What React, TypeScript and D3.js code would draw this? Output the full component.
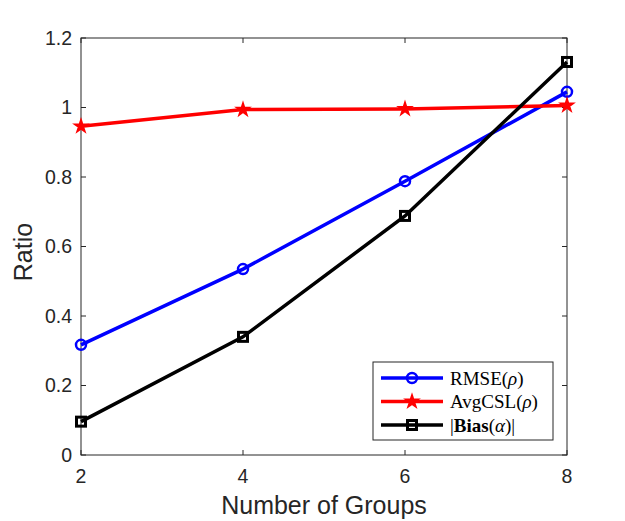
import React from "react";
import * as d3 from "d3";

const groups = [2, 4, 6, 8];
const rmse = [0.317, 0.535, 0.788, 1.045];
const avgcsl = [0.946, 0.994, 0.996, 1.006];
const bias = [0.096, 0.34, 0.688, 1.131];
const yTicks = [0, 0.2, 0.4, 0.6, 0.8, 1, 1.2];
const xTicks = [2, 4, 6, 8];

const W = 625, H = 521;
const L = 81, R = 567, T = 38, B = 455;

export default function App() {
  const x = d3.scaleLinear().domain([2, 8]).range([L, R]);
  const y = d3.scaleLinear().domain([0, 1.2]).range([B, T]);
  const line = d3.line<number>().x((_, i) => x(groups[i])).y((d) => y(d));
  const star = d3.symbol(d3.symbolStar, 42)() as string;
  const tickFont = { fontFamily: "Liberation Sans, Arial, sans-serif", fontSize: 19.5, fill: "#262626" };

  const series = [
    { data: rmse, color: "#0000ff", kind: "circle" },
    { data: avgcsl, color: "#ff0000", kind: "star" },
    { data: bias, color: "#000000", kind: "square" },
  ];

  const marker = (kind: string, color: string, cx: number, cy: number, key: any) => {
    if (kind === "circle")
      return <circle key={key} cx={cx} cy={cy} r={5} fill="none" stroke={color} strokeWidth={2.5} />;
    if (kind === "star")
      return <path key={key} d={star} transform={`translate(${cx},${cy})`} fill={color} stroke={color} strokeWidth={2} />;
    return <rect key={key} x={cx - 4.5} y={cy - 4.5} width={9} height={9} fill="none" stroke={color} strokeWidth={3} />;
  };

  const legendItems = [
    { kind: "circle", color: "#0000ff", label: <tspan>RMSE(<tspan fontStyle="italic">ρ</tspan>)</tspan> },
    { kind: "star", color: "#ff0000", label: <tspan>AvgCSL(<tspan fontStyle="italic">ρ</tspan>)</tspan> },
    { kind: "square", color: "#000000", label: <tspan>|<tspan fontWeight="bold">Bias</tspan>(<tspan fontStyle="italic">α</tspan>)|</tspan> },
  ];

  return (
    <svg width={W} height={H} style={{ position: "absolute", left: 0, top: 0 }}>
      <rect x={0} y={0} width={W} height={H} fill="#fff" />
      <rect x={L} y={T} width={R - L} height={B - T} fill="#fff" stroke="#262626" strokeWidth={1} />
      {yTicks.map((t) => (
        <g key={"y" + t}>
          <line x1={L} x2={L + 5} y1={y(t)} y2={y(t)} stroke="#262626" />
          <line x1={R} x2={R - 5} y1={y(t)} y2={y(t)} stroke="#262626" />
          <text x={L - 9} y={y(t)} dy="0.35em" textAnchor="end" {...tickFont}>{String(t)}</text>
        </g>
      ))}
      {xTicks.map((t) => (
        <g key={"x" + t}>
          <line x1={x(t)} x2={x(t)} y1={B} y2={B - 5} stroke="#262626" />
          <line x1={x(t)} x2={x(t)} y1={T} y2={T + 5} stroke="#262626" />
          <text x={x(t)} y={B + 28} textAnchor="middle" {...tickFont}>{String(t)}</text>
        </g>
      ))}
      <text x={324} y={514} textAnchor="middle" fontFamily="Liberation Sans, Arial, sans-serif" fontSize={25} fill="#262626">Number of Groups</text>
      <text transform={`translate(32,252) rotate(-90)`} textAnchor="middle" fontFamily="Liberation Sans, Arial, sans-serif" fontSize={25} fill="#262626">Ratio</text>
      {series.map((s, si) => (
        <g key={si}>
          <path d={line(s.data) as string} fill="none" stroke={s.color} strokeWidth={3.5} />
          {s.data.map((v, i) => marker(s.kind, s.color, x(groups[i]), y(v), i))}
        </g>
      ))}
      <rect x={373} y={362} width={180} height={78} fill="#fff" stroke="#262626" strokeWidth={1} />
      {legendItems.map((it, i) => {
        const cy = 378 + i * 23.5;
        return (
          <g key={"l" + i}>
            <line x1={381} x2={443} y1={cy} y2={cy} stroke={it.color} strokeWidth={3.5} />
            {marker(it.kind, it.color, 412, cy, "m")}
            <text x={450} y={cy} dy="0.35em" fontFamily="Liberation Serif, Times New Roman, serif" fontSize={19} fill="#000">{it.label}</text>
          </g>
        );
      })}
    </svg>
  );
}
